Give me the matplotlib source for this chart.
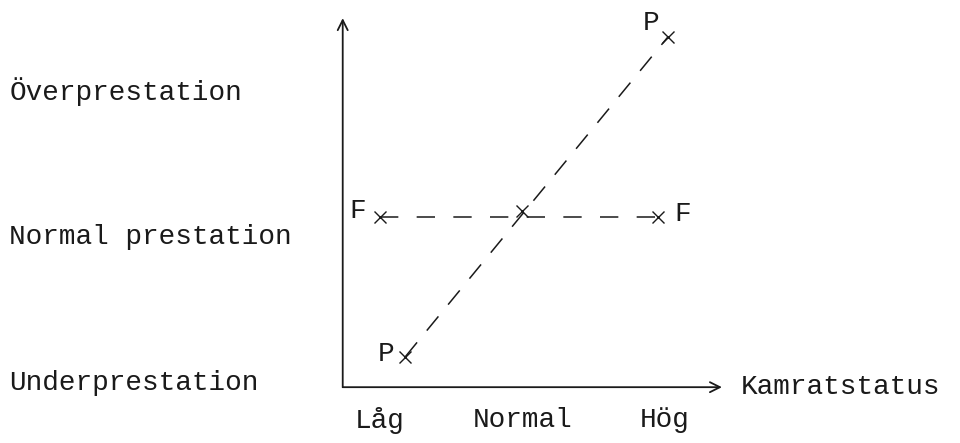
import matplotlib.pyplot as plt

# categories on the axes
status_labels = ['Låg', 'Normal', 'Hög']
status_pos = [0, 1, 2]
level_labels = ['Underprestation', 'Normal prestation', 'Överprestation']
level_pos = [0, 1, 2]

# P line (prestation) and F line
p_x = [0.18, 2.02]
p_y = [0.16, 2.35]
f_x = [0.0, 1.95]
f_y = [1.12, 1.12]
cross_x = [1.0]
cross_y = [1.16]

ink = '#1a1a1a'
font = 'Liberation Mono'
fs = 20

fig = plt.figure(figsize=(9.6, 4.43), dpi=100)
ax = fig.add_axes([0.357, 0.126, 0.395, 0.833])
ax.set_xlim(-0.26, 2.40)
ax.set_ylim(-0.05, 2.48)
for s in ax.spines.values():
    s.set_visible(False)

# axes as arrows
ax.annotate('', xy=(2.40, -0.05), xytext=(-0.26, -0.05),
            arrowprops=dict(arrowstyle='->', color=ink, lw=1.3, mutation_scale=18,
                            shrinkA=0, shrinkB=0))
ax.annotate('', xy=(-0.26, 2.48), xytext=(-0.26, -0.05),
            arrowprops=dict(arrowstyle='->', color=ink, lw=1.3, mutation_scale=18,
                            shrinkA=0, shrinkB=0))

# dashed lines
ax.plot(p_x, p_y, color=ink, lw=1.1, dashes=(12, 10), marker='x', markersize=8, mew=1.0)
ax.plot(f_x, f_y, color=ink, lw=1.1, dashes=(12, 12), marker='x', markersize=9, mew=1.0)
ax.plot(cross_x, cross_y, ls='none', color=ink, marker='x', markersize=8, mew=1.0)

# point labels
tkw = dict(color=ink, family=font, fontsize=fs, textcoords='offset points', va='center', ha='center')
ax.annotate('P', (p_x[0], p_y[0]), xytext=(-14, 2), **tkw)
ax.annotate('P', (p_x[1], p_y[1]), xytext=(-12, 10), **tkw)
ax.annotate('F', (f_x[0], f_y[0]), xytext=(-16, 4), **tkw)
ax.annotate('F', (f_x[1], f_y[1]), xytext=(18, 2), **tkw)

# ticks
ax.set_xticks(status_pos)
ax.set_xticklabels(status_labels, family=font, fontsize=fs, color=ink)
ax.set_yticks(level_pos)
ax.set_yticklabels(level_labels, family=font, fontsize=fs, color=ink, ha='left')
ax.tick_params(axis='x', length=0, pad=14)
ax.tick_params(axis='y', length=0, pad=240)

ax.text(2.53, -0.05, 'Kamratstatus', family=font, fontsize=fs, color=ink,
        va='center', ha='left')

fig.savefig('out.png', dpi=100, facecolor='white')
